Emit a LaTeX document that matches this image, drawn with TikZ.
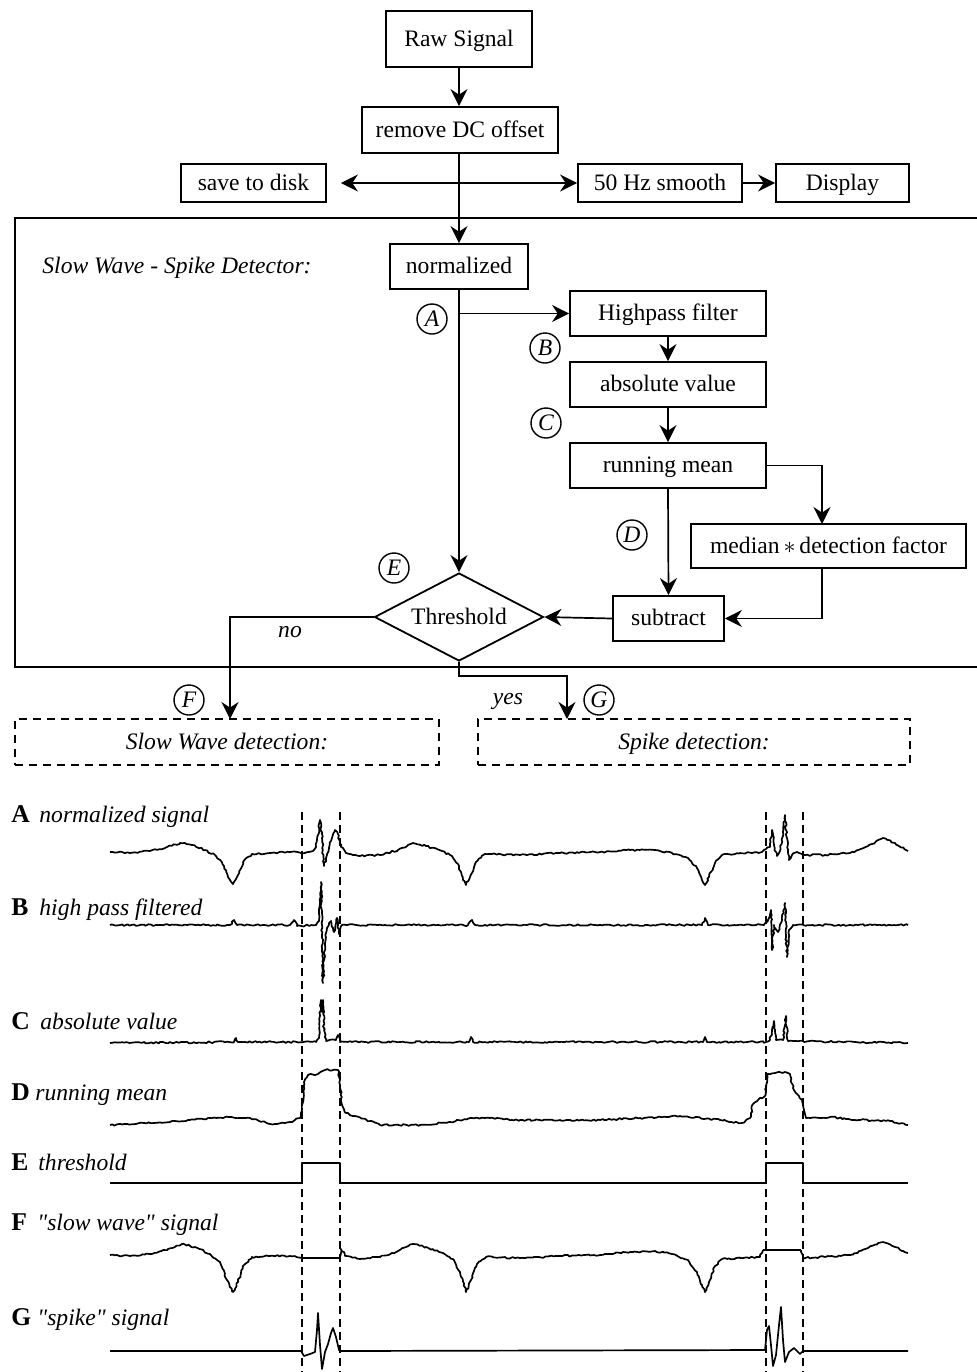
\documentclass[tikz,border=0pt]{standalone}
\usepackage{fontspec}
\setmainfont{Liberation Serif}[Ligatures=TeXOff]
\usetikzlibrary{arrows.meta,shapes.geometric,decorations.pathmorphing}
\newcommand\boxfont{\fontsize{11.8}{14}\selectfont}
\newcommand\letfont{\fontsize{12.8}{15}\selectfont\bfseries}
\newcommand\itfont{\fontsize{11.8}{14}\selectfont\itshape}
\begin{document}
\begin{tikzpicture}[x=0.5pt,y=-0.5pt,
  box/.style={draw,line width=0.9pt,inner sep=0pt,font=\boxfont,text height=9.2pt,text depth=1.8pt},
  dbox/.style={draw,line width=0.9pt,dash pattern=on 4pt off 3pt,inner sep=0pt,font=\itfont,text height=9.2pt,text depth=1.8pt},
  tip/.tip={Stealth[length=8.5pt,width=8.5pt,inset=2.8pt]},
  arr/.style={line width=0.85pt,-tip},
  darr/.style={line width=0.85pt,tip-tip},
  lab/.style={circle,draw,line width=0.7pt,minimum size=15pt,inner sep=0pt,font=\itfont},
  txt/.style={inner sep=0pt,anchor=base west},
  trace/.style={line width=0.85pt,line join=round,decorate,decoration={random steps,segment length=1.2pt,amplitude=0.45pt}},
  cleantrace/.style={line width=0.85pt,line join=round},
  vd/.style={line width=0.9pt,dash pattern=on 4pt off 2.5pt}]
\pgfmathsetseed{7}
\useasboundingbox (0,0) rectangle (977,1372);

% outer frame
\draw[line width=1.1pt] (977,218) -- (15,218) -- (15,667) -- (977,667);

% top nodes
\node[box,minimum width=73pt,minimum height=28pt] (raw) at (459,39) {Raw Signal};
\node[box,minimum width=98pt,minimum height=23pt] (dc) at (460,130) {remove DC offset};
\node[box,minimum width=72.5pt,minimum height=19pt] (save) at (253.5,183) {save to disk};
\node[box,minimum width=82pt,minimum height=19pt] (smooth) at (660,183) {50 Hz smooth};
\node[box,minimum width=66.5pt,minimum height=19pt] (disp) at (842.5,183) {Display};

\node[txt,font=\itfont] (title) at (42,273) {Slow Wave - Spike Detector:};
\node[box,minimum width=69pt,minimum height=22.5pt] (norm) at (459,266.5) {normalized};
\node[box,minimum width=98pt,minimum height=22.5pt] (hp) at (668,313.5) {Highpass filter};
\node[box,minimum width=98pt,minimum height=22.5pt] (abs) at (668,384.5) {absolute value};
\node[box,minimum width=98pt,minimum height=22.5pt] (rm) at (668,465.5) {running mean};
\node[box,minimum width=137.5pt,minimum height=22pt] (med) at (828.5,546) {median\,$*$\,detection factor};
\node[box,minimum width=55.5pt,minimum height=22.5pt] (sub) at (668.5,618.5) {subtract};
\node[box,diamond,aspect=1.9,minimum width=84.5pt,minimum height=44pt] (thr) at (459,617) {Threshold};

\node[dbox,minimum width=212pt,minimum height=23pt] (swd) at (227,742) {Slow Wave detection:};
\node[dbox,minimum width=216pt,minimum height=23pt] (spd) at (694,742) {Spike detection:};

% circled labels
\node[lab] (cA) at (432,319) {A};
\node[lab] (cB) at (545,348) {B};
\node[lab] (cC) at (546,423) {C};
\node[lab] (cD) at (632,535) {D};
\node[lab] (cE) at (394,568) {E};
\node[lab] (cF) at (189,700) {F};
\node[lab] (cG) at (599,700) {G};
\node[font=\itfont,inner sep=0pt] (no) at (290,632) {no};
\node[font=\itfont,inner sep=0pt] (yes) at (508,701) {yes};

% connectors
\draw[arr] (raw.south) -- (raw.south |- dc.north);
\draw[arr] (norm.north |- dc.south) -- (norm.north);
\draw[darr,shorten <=7pt] (save.east) -- (smooth.west);
\draw[arr] (smooth.east) -- (disp.west);
\draw[arr] (norm.south) -- (thr.north);
\draw[arr] (norm.south |- hp.west) -- (hp.west);
\draw[arr] (hp.south) -- (abs.north);
\draw[arr] (abs.south) -- (rm.north);
\coordinate (medin) at (822,524);
\draw[arr] (rm.east) -| (medin);
\draw[arr] (rm.south) -- (sub.north);
\coordinate (medout) at (822,568);
\draw[arr] (medout) |- (sub.east);
\draw[arr] (sub.west) -- (thr.east);
\coordinate (noend) at (230,719);
\draw[arr] (thr.west) -| (noend);
\coordinate (yesend) at (567,719);
\draw[arr] (thr.south) -- ++(0,14) -| (yesend);

% bottom labels
\node[txt,font=\letfont] (lA) at (11,822) {A};
\node[txt,font=\itfont] (tA) at (39,822) {normalized signal};
\node[txt,font=\letfont] (lB) at (11,915) {B};
\node[txt,font=\itfont] (tB) at (39,915) {high pass filtered};
\node[txt,font=\letfont] (lC) at (11,1029) {C};
\node[txt,font=\itfont] (tC) at (40,1029) {absolute value};
\node[txt,font=\letfont] (lD) at (11,1100) {D};
\node[txt,font=\itfont] (tD) at (35,1100) {running mean};
\node[txt,font=\letfont] (lE) at (11,1170) {E};
\node[txt,font=\itfont] (tE) at (38,1170) {threshold};
\node[txt,font=\letfont] (lF) at (11,1230) {F};
\node[txt,font=\itfont] (tF) at (37,1230) {"slow wave" signal};
\node[txt,font=\letfont] (lG) at (11,1325) {G};
\node[txt,font=\itfont] (tG) at (37,1325) {"spike" signal};

% dashed verticals
\draw[vd] (302,812) -- (302,1372);
\draw[vd] (340,812) -- (340,1372);
\draw[vd] (766,812) -- (766,1372);
\draw[vd] (803,812) -- (803,1372);

% A
\draw[trace] (110,852) -- (130,853) -- (150,851) -- (165,848) -- (180,843) -- (192,845) -- (205,850) -- (215,855) -- (224,866) -- (230,880) -- (233,884) -- (237,877) -- (243,862) -- (252,854) -- (270,853) -- (290,852) -- (305,853) -- (313,851) -- (316,847) -- (318,835) -- (320,820) -- (322,838) -- (324,866) -- (326,858) -- (329,848) -- (332,838) -- (335,830) -- (338,834) -- (341,847) -- (346,853) -- (360,856) -- (380,855) -- (398,850) -- (413,843) -- (426,846) -- (442,851) -- (452,856) -- (459,866) -- (463,880) -- (466,885) -- (470,877) -- (476,862) -- (485,854) -- (520,855) -- (560,853) -- (600,852) -- (630,850) -- (655,850) -- (672,853) -- (688,858) -- (697,868) -- (702,880) -- (705,885) -- (709,877) -- (715,863) -- (722,855) -- (740,853) -- (762,852) -- (766,849) -- (770,847) -- (772,830) -- (774,845) -- (777,856) -- (780,851) -- (783,832) -- (785,815) -- (787,838) -- (789,860) -- (792,855) -- (797,852) -- (803,855) -- (825,855) -- (850,853) -- (868,846) -- (883,838) -- (895,843) -- (908,851);
% B
\draw[trace] (110,925) -- (230,925) -- (234,920) -- (237,925) -- (290,925) -- (294,920) -- (297,926) -- (316,925) -- (319,921) -- (321,882) -- (322,925) -- (323,983) -- (325,945) -- (327,928) -- (331,921) -- (334,932) -- (337,918) -- (339,934) -- (342,925) -- (468,925) -- (472,920) -- (475,925) -- (702,925) -- (705,918) -- (708,925) -- (764,925) -- (768,920) -- (771,910) -- (772,950) -- (774,925) -- (778,932) -- (782,920) -- (785,903) -- (787,957) -- (789,930) -- (793,925) -- (908,925);
% C
\draw[trace] (110,1043) -- (234,1042) -- (236,1038) -- (238,1042) -- (316,1042) -- (319,1038) -- (320,1015) -- (321,1000) -- (322,1012) -- (323,1000) -- (324,1030) -- (326,1041) -- (336,1040) -- (338,1035) -- (340,1042) -- (469,1042) -- (471,1037) -- (473,1042) -- (703,1042) -- (705,1037) -- (707,1042) -- (766,1042) -- (770,1040) -- (772,1030) -- (774,1021) -- (776,1040) -- (783,1040) -- (785,1025) -- (786,1016) -- (788,1041) -- (908,1043);
% D
\draw[trace] (110,1125) -- (150,1123) -- (190,1120) -- (230,1117) -- (250,1118) -- (270,1124) -- (290,1122) -- (300,1118) -- (302,1110) -- (304,1082) -- (308,1075) -- (318,1074) -- (325,1070) -- (338,1070) -- (340,1080) -- (342,1105) -- (346,1113) -- (355,1116) -- (380,1125) -- (420,1125) -- (450,1122) -- (470,1118) -- (490,1118) -- (520,1120) -- (560,1120) -- (600,1120) -- (640,1118) -- (680,1116) -- (720,1120) -- (742,1123) -- (750,1118) -- (753,1104) -- (758,1100) -- (765,1096) -- (767,1074) -- (775,1073) -- (785,1072) -- (790,1074) -- (793,1088) -- (797,1094) -- (802,1100) -- (804,1110) -- (806,1118) -- (830,1117) -- (860,1120) -- (890,1121) -- (908,1125);
% E
\draw[cleantrace] (110,1183) -- (302,1183) -- (302,1163) -- (340,1163) -- (340,1183) -- (766,1183) -- (766,1163) -- (803,1163) -- (803,1183) -- (908,1183);
% F
\draw[trace] (110,1255) -- (130,1256) -- (150,1254) -- (168,1249) -- (182,1244) -- (195,1247) -- (210,1254) -- (220,1262) -- (227,1280) -- (233,1292) -- (238,1282) -- (244,1265) -- (252,1257) -- (270,1256) -- (290,1256) -- (302,1258);
\draw[cleantrace] (302,1258) -- (340,1258);
\draw[trace] (340,1258) -- (341,1249) -- (346,1256) -- (360,1259) -- (380,1257) -- (398,1251) -- (413,1244) -- (426,1247) -- (443,1253) -- (453,1259) -- (460,1272) -- (466,1292) -- (471,1280) -- (477,1264) -- (486,1257) -- (520,1258) -- (560,1256) -- (600,1255) -- (630,1252) -- (655,1251) -- (672,1254) -- (688,1260) -- (697,1272) -- (702,1285) -- (705,1292) -- (709,1282) -- (715,1266) -- (722,1259) -- (740,1258) -- (760,1257) -- (763,1250);
\draw[cleantrace] (763,1250) -- (801,1250);
\draw[trace] (801,1250) -- (803,1258) -- (825,1257) -- (850,1255) -- (868,1248) -- (883,1242) -- (895,1247) -- (908,1253);
% G
\draw[cleantrace] (110,1351) -- (301,1351) -- (304,1356) -- (310,1354) -- (315,1352) -- (317,1330) -- (318,1313) -- (320,1345) -- (322,1369) -- (325,1352) -- (328,1344) -- (331,1333) -- (333,1328) -- (336,1337) -- (339,1350) -- (341,1351) -- (765,1350) -- (767,1330) -- (769,1326) -- (771,1345) -- (773,1366) -- (776,1355) -- (779,1325) -- (781,1307) -- (783,1340) -- (785,1362) -- (789,1352) -- (794,1348) -- (800,1354) -- (803,1351) -- (908,1351);
\end{tikzpicture}
\end{document}
